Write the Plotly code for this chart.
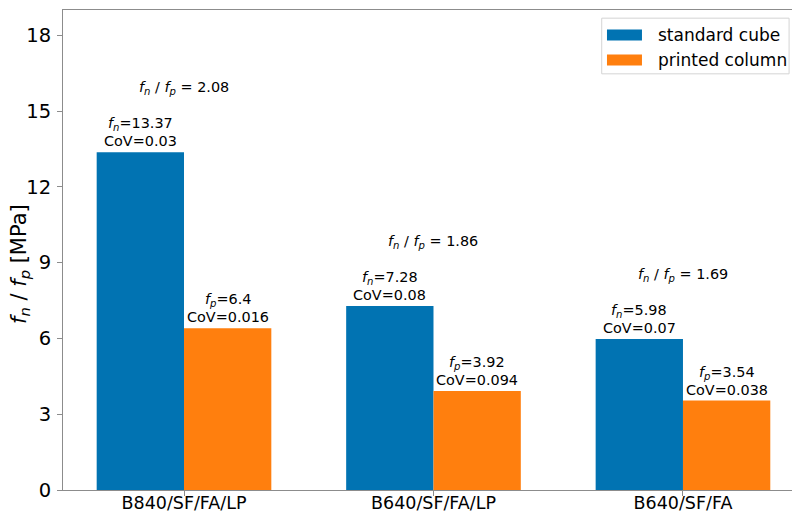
import plotly.graph_objects as go

# Compressive strength data
categories = ["B840/SF/FA/LP", "B640/SF/FA/LP", "B640/SF/FA"]
cube_strength = [13.37, 7.28, 5.98]      # f_n, standard cube
column_strength = [6.4, 3.92, 3.54]      # f_p, printed column
cube_cov = ["0.03", "0.08", "0.07"]
column_cov = ["0.016", "0.094", "0.038"]
ratios = ["2.08", "1.86", "1.69"]
y_ticks = [0, 3, 6, 9, 12, 15, 18]

BLUE = "#0173b2"
ORANGE = "#ff7f0e"
FONT = "DejaVu Sans"
AXIS_GRAY = "#8c8c8c"

FN = "<i>f<sub>n</sub></i>"
FP = "<i>f<sub>p</sub></i>"

xpos = list(range(len(categories)))

fig = go.Figure()
fig.add_trace(go.Bar(x=xpos, y=cube_strength, name="standard cube",
                     marker=dict(color=BLUE, line=dict(width=0)), showlegend=False))
fig.add_trace(go.Bar(x=xpos, y=column_strength, name="printed column",
                     marker=dict(color=ORANGE, line=dict(width=0)), showlegend=False))

annotations = []
bar_w = 0.35
label_font = dict(family=FONT, size=14.4, color="black")


def bar_label(xc, value, symbol, cov):
    # two-line label above a bar: strength value, then coefficient of variation
    annotations.append(dict(x=xc, y=value, xref="x", yref="y", text=f"{symbol}={value:g}",
                            showarrow=False, yanchor="middle", xanchor="center",
                            yshift=28, font=label_font))
    annotations.append(dict(x=xc, y=value, xref="x", yref="y", text=f"CoV={cov}",
                            showarrow=False, yanchor="middle", xanchor="center",
                            yshift=11, font=label_font))


for i in xpos:
    bar_label(i - bar_w / 2, cube_strength[i], FN, cube_cov[i])
    bar_label(i + bar_w / 2, column_strength[i], FP, column_cov[i])
    annotations.append(dict(
        x=i, y=cube_strength[i] + 2.53, xref="x", yref="y",
        text=f"{FN} / {FP} = {ratios[i]}",
        showarrow=False, yanchor="middle", xanchor="center", font=label_font))

# Y-axis title
annotations.append(dict(x=-0.059, y=0.471, xref="paper", yref="paper",
                        text=f"{FN} / {FP} [MPa]", textangle=-90, showarrow=False,
                        xanchor="center", yanchor="middle",
                        font=dict(family=FONT, size=21, color="black")))

# Legend box with wide patches
shapes = [
    dict(type="rect", xref="paper", yref="paper", x0=0.739, x1=0.996, y0=0.867, y1=0.983,
         line=dict(color="#d4d4d4", width=1), fillcolor="rgba(255,255,255,0.8)", layer="above"),
]
legend_items = [("standard cube", BLUE, 0.948), ("printed column", ORANGE, 0.896)]
for label, color, yc in legend_items:
    shapes.append(dict(type="rect", xref="paper", yref="paper",
                       x0=0.7462, x1=0.7942, y0=yc - 0.0115, y1=yc + 0.0115,
                       line=dict(width=0), fillcolor=color, layer="above"))
    annotations.append(dict(x=0.814, y=yc, xref="paper", yref="paper", text=label,
                            showarrow=False, xanchor="left", yanchor="middle",
                            font=dict(family=FONT, size=17, color="black")))

fig.update_layout(
    width=792, height=513,
    margin=dict(l=63, r=0, t=10, b=23, pad=0),
    plot_bgcolor="white", paper_bgcolor="white",
    barmode="group", bargap=0.3, bargroupgap=0,
    font=dict(family=FONT, color="black"),
    annotations=annotations, shapes=shapes,
    showlegend=False,
)
fig.update_xaxes(
    range=[-0.485, 2.437], tickmode="array", tickvals=xpos, ticktext=categories,
    showline=True, linecolor=AXIS_GRAY, linewidth=1, mirror=True,
    ticks="outside", ticklen=5, tickcolor=AXIS_GRAY, automargin=False,
    ticklabelstandoff=-8,
    tickfont=dict(family=FONT, size=17.5), showgrid=False, zeroline=False,
)
fig.update_yaxes(
    range=[0, 19], tickmode="array", tickvals=y_ticks,
    showline=True, linecolor=AXIS_GRAY, linewidth=1, automargin=False,
    ticks="outside", ticklen=5, tickcolor=AXIS_GRAY, ticklabelstandoff=2,
    tickfont=dict(family=FONT, size=19.5), showgrid=False, zeroline=False,
)

fig.write_html("out.html")
